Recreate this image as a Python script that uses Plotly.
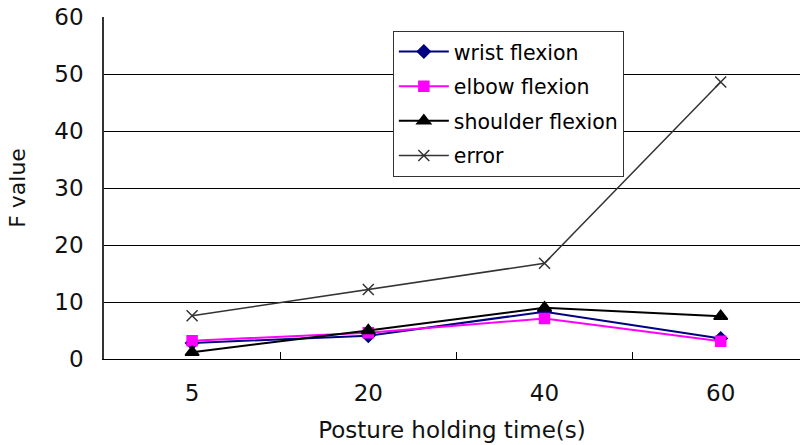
import plotly.graph_objects as go

# Posture holding time categories (seconds)
times = ["5", "20", "40", "60"]

# F values per joint posture and the error term
wrist_flexion = [2.8, 4.1, 8.3, 3.6]
elbow_flexion = [3.2, 4.6, 7.1, 3.1]
shoulder_flexion = [1.2, 5.0, 9.0, 7.5]
error = [7.6, 12.2, 16.8, 48.6]

y_ticks = [0, 10, 20, 30, 40, 50, 60]

FONT = "DejaVu Sans"

series = [
    ("wrist flexion", wrist_flexion, "#000080", "diamond", 10, 2),
    ("elbow flexion", elbow_flexion, "#FF00FF", "square", 10, 2),
    ("shoulder flexion", shoulder_flexion, "#000000", "triangle-up", 12, 2),
    ("error", error, "#333333", "x-thin-open", 11, 1.5),
]

fig = go.Figure()
for i, (name, vals, color, symbol, size, width) in enumerate(series):
    fig.add_trace(go.Scatter(
        x=times, y=vals, name=name, mode="lines+markers",
        legendgroup=f"g{i}",
        line=dict(color=color, width=width),
        marker=dict(symbol=symbol, size=size, color=color,
                    line=dict(color=color, width=1.5)),
    ))

fig.update_layout(
    width=800, height=445,
    margin=dict(l=104, r=0, t=17, b=86),
    paper_bgcolor="white", plot_bgcolor="white",
    font=dict(family=FONT, size=22, color="#000000"),
    showlegend=True,
    legend=dict(
        x=0.415, y=0.96, xanchor="left", yanchor="top",
        bgcolor="white", bordercolor="#333333", borderwidth=1,
        font=dict(family=FONT, size=20.5, color="#000000"),
        tracegroupgap=5, traceorder="grouped",
        itemwidth=50,
    ),
    xaxis=dict(
        type="category", range=[-0.5, 3.45],
        tickson="boundaries", ticks="inside", ticklen=7, tickcolor="#000000",
        showline=True, linecolor="#000000", linewidth=1,
        showgrid=False, zeroline=False,
        ticklabelstandoff=13,
        tickfont=dict(family=FONT, size=23, color="#111111"),
        title=dict(text="Posture holding time(s)", standoff=17,
                   font=dict(family=FONT, size=23, color="#111111")),
        automargin=False,
    ),
    yaxis=dict(
        range=[0, 60], tickvals=y_ticks,
        showline=True, linecolor="#333333", linewidth=1.5,
        showgrid=True, gridcolor="#000000", gridwidth=1,
        zeroline=False, ticks="",
        ticklabelstandoff=14,
        tickfont=dict(family=FONT, size=23, color="#111111"),
        title=dict(text="F value", standoff=23,
                   font=dict(family=FONT, size=22, color="#111111")),
        automargin=False,
    ),
)

fig.write_html("out.html")
